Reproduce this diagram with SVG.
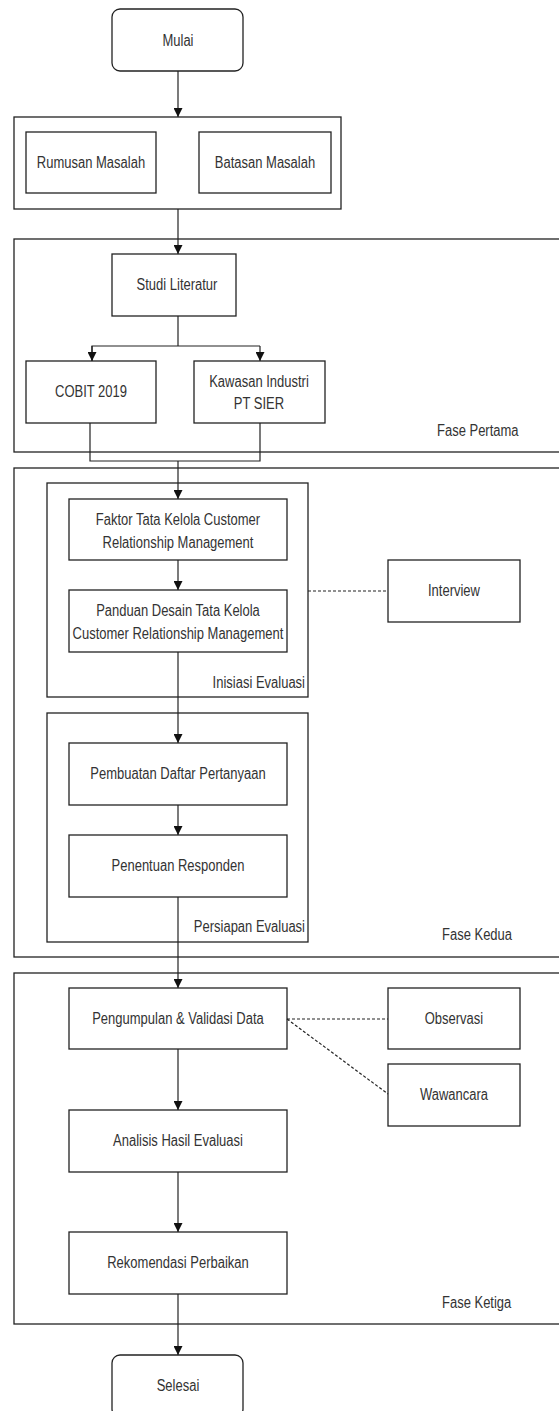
<svg xmlns="http://www.w3.org/2000/svg" width="559" height="1411" viewBox="0 0 559 1411">
<style>
rect{fill:#fff;stroke:#222;stroke-width:1.3}
.grp{fill:none}
text{font-family:"Liberation Sans",Arial,sans-serif;font-size:13px;fill:#333;text-anchor:middle;dominant-baseline:central;transform-box:fill-box;transform-origin:center;transform:scaleY(1.2)}
.l{text-anchor:start}
.r{text-anchor:end}
.c line,.c path{stroke:#222;stroke-width:1.2;fill:none}
.c .d{stroke-dasharray:3 2}
</style>
<defs>
<marker id="a" viewBox="0 0 10 10" refX="10" refY="5" markerWidth="9" markerHeight="9" markerUnits="userSpaceOnUse" orient="auto">
<path d="M0,0 L10,5 L0,10 Z" fill="#111"/>
</marker>
</defs>
<g id="fase-pertama"><rect class="grp" x="14" y="239" width="560" height="213"/><text class="l" x="437" y="431">Fase Pertama</text></g>
<g id="fase-kedua"><rect class="grp" x="14" y="468" width="560" height="489"/><text class="l" x="442" y="935">Fase Kedua</text></g>
<g id="fase-ketiga"><rect class="grp" x="14" y="973" width="560" height="351"/><text class="l" x="442" y="1303">Fase Ketiga</text></g>
<g id="masalah"><rect x="14" y="117" width="327" height="92"/></g>
<g id="inisiasi"><rect class="grp" x="47" y="483" width="261" height="214"/><text class="r" x="305" y="683">Inisiasi Evaluasi</text></g>
<g id="persiapan"><rect class="grp" x="47" y="713" width="261" height="229"/><text class="r" x="305" y="927">Persiapan Evaluasi</text></g>
<g id="mulai"><rect x="112" y="9" width="131" height="62" rx="8"/><text x="178" y="41">Mulai</text></g>
<g id="rumusan"><rect x="26" y="132" width="130" height="61"/><text x="91" y="163">Rumusan Masalah</text></g>
<g id="batasan"><rect x="199" y="132" width="132" height="61"/><text x="265" y="163">Batasan Masalah</text></g>
<g id="studi"><rect x="112" y="254" width="124" height="62"/><text x="177" y="285">Studi Literatur</text></g>
<g id="cobit"><rect x="26" y="361" width="130" height="62"/><text x="91" y="392">COBIT 2019</text></g>
<g id="kawasan"><rect x="194" y="361" width="131" height="62"/><text x="259" y="382">Kawasan Industri</text><text x="259" y="404">PT SIER</text></g>
<g id="faktor"><rect x="69" y="499" width="218" height="61"/><text x="178" y="520">Faktor Tata Kelola Customer</text><text x="178" y="543">Relationship Management</text></g>
<g id="panduan"><rect x="69" y="590" width="218" height="62"/><text x="178" y="611">Panduan Desain Tata Kelola</text><text x="178" y="634">Customer Relationship Management</text></g>
<g id="interview"><rect x="388" y="560" width="132" height="62"/><text x="454" y="591">Interview</text></g>
<g id="pembuatan"><rect x="69" y="743" width="218" height="62"/><text x="178" y="774">Pembuatan Daftar Pertanyaan</text></g>
<g id="penentuan"><rect x="69" y="835" width="218" height="62"/><text x="178" y="866">Penentuan Responden</text></g>
<g id="pengumpulan"><rect x="69" y="988" width="218" height="61"/><text x="178" y="1019">Pengumpulan &amp; Validasi Data</text></g>
<g id="observasi"><rect x="388" y="988" width="132" height="61"/><text x="454" y="1019">Observasi</text></g>
<g id="wawancara"><rect x="388" y="1064" width="132" height="62"/><text x="454" y="1095">Wawancara</text></g>
<g id="analisis"><rect x="69" y="1110" width="218" height="62"/><text x="178" y="1141">Analisis Hasil Evaluasi</text></g>
<g id="rekomendasi"><rect x="69" y="1232" width="218" height="62"/><text x="178" y="1263">Rekomendasi Perbaikan</text></g>
<g id="selesai"><rect x="112" y="1355" width="131" height="62" rx="8"/><text x="178" y="1386">Selesai</text></g>
<g id="connectors" class="c">
<line x1="178" y1="71" x2="178" y2="117" marker-end="url(#a)"/>
<line x1="178" y1="209" x2="178" y2="254" marker-end="url(#a)"/>
<line x1="178" y1="316" x2="178" y2="346"/>
<path d="M92,361 V346 H260"/>
<line x1="92" y1="346" x2="92" y2="361" marker-end="url(#a)"/>
<line x1="260" y1="346" x2="260" y2="361" marker-end="url(#a)"/>
<path d="M90,423 V461 H260 V423"/>
<line x1="178" y1="461" x2="178" y2="499" marker-end="url(#a)"/>
<line x1="178" y1="560" x2="178" y2="590" marker-end="url(#a)"/>
<line x1="178" y1="652" x2="178" y2="743" marker-end="url(#a)"/>
<line x1="178" y1="805" x2="178" y2="835" marker-end="url(#a)"/>
<line x1="178" y1="897" x2="178" y2="988" marker-end="url(#a)"/>
<line x1="178" y1="1049" x2="178" y2="1110" marker-end="url(#a)"/>
<line x1="178" y1="1172" x2="178" y2="1232" marker-end="url(#a)"/>
<line x1="178" y1="1294" x2="178" y2="1355" marker-end="url(#a)"/>
<line class="d" x1="308" y1="591" x2="388" y2="591"/>
<line class="d" x1="287" y1="1019" x2="388" y2="1019"/>
<line class="d" x1="287" y1="1019" x2="388" y2="1094"/>
</g>
</svg>
